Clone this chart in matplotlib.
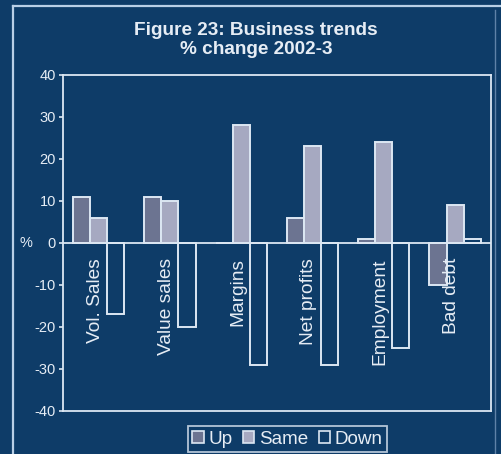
import matplotlib
matplotlib.use("Agg")
import matplotlib.pyplot as plt
from matplotlib.patches import Patch
from matplotlib.lines import Line2D

# Data: % change 2002-3 by business indicator
categories = ["Vol. Sales", "Value sales", "Margins", "Net profits", "Employment", "Bad debt"]
up = [11, 11, 0, 6, 1, -10]
same = [6, 10, 28, 23, 24, 9]
down = [-17, -20, -29, -29, -25, 1]
series_names = ["Up", "Same", "Down"]
yticks = [-40, -30, -20, -10, 0, 10, 20, 30, 40]

BG = "#0e3c68"
LINE = "#dce7f3"
TXT = "#e6edf5"
UP_C = "#6c7491"
SAME_C = "#a6a9c1"

plt.rcParams['font.family'] = ['Liberation Sans', 'DejaVu Sans']

W, H = 501, 454
fig = plt.figure(figsize=(W / 100, H / 100), dpi=100, facecolor=BG)

# outer frame lines
frame_kw = dict(transform=fig.transFigure, color="#b9cfe6", lw=1.6)
fig.add_artist(Line2D([13 / W, 13 / W], [0, 1 - 6 / H], **frame_kw))
fig.add_artist(Line2D([13 / W, 1], [1 - 6 / H, 1 - 6 / H], **frame_kw))
fig.add_artist(Line2D([495 / W, 495 / W], [0, 1 - 10 / H], transform=fig.transFigure,
                      color="#5f82a8", lw=1.0))

ax = fig.add_axes([63 / W, 1 - 411 / H, (490.7 - 63) / W, (411 - 74.7) / H])
ax.set_facecolor(BG)

width = 0.24
x = list(range(len(categories)))
edge_kw = dict(edgecolor=LINE, linewidth=1.4, width=width, zorder=3)
ax.bar([i - width for i in x], up, color=UP_C, **edge_kw)
ax.bar(x, same, color=SAME_C, **edge_kw)
ax.bar([i + width for i in x], down, color="none", **edge_kw)

ax.axhline(0, color=LINE, lw=1.3, zorder=4)

ax.set_xlim(-0.5, len(categories) - 0.5)
ax.set_ylim(-40, 40)
ax.set_yticks(yticks)
ax.set_yticklabels([str(v) for v in yticks], color=TXT, fontsize=10.5)
ax.tick_params(axis='y', direction='out', length=3, width=1.2, color=LINE, pad=2)
ax.set_xticks([])
for s in ax.spines.values():
    s.set_color(LINE)
    s.set_linewidth(1.3)

# category labels hanging below the zero line, reading upwards
for i, name in enumerate(categories):
    ax.annotate(name, xy=(i - 0.05, 0), xytext=(0, -11), textcoords='offset points',
                rotation=90, ha='center', va='top', color=TXT, fontsize=13.8)

# "%" axis label
fig.text(26 / W, 1 - 243 / H, "%", color=TXT, fontsize=10.5, ha='center', va='center')

# title
fig.text(256 / W, 1 - 35 / H, "Figure 23: Business trends", color=TXT, fontsize=13.7,
         fontweight='bold', ha='center', va='baseline')
fig.text(256 / W, 1 - 54 / H, "% change 2002-3", color=TXT, fontsize=13.7,
         fontweight='bold', ha='center', va='baseline')

handles = [Patch(facecolor=UP_C, edgecolor=LINE, lw=1.2),
           Patch(facecolor=SAME_C, edgecolor=LINE, lw=1.2),
           Patch(facecolor="none", edgecolor=LINE, lw=1.2)]
leg = fig.legend(handles, series_names, loc='center', ncol=3,
                 bbox_to_anchor=(287.5 / W, 1 - 439 / H), bbox_transform=fig.transFigure,
                 frameon=True, fancybox=False, facecolor=BG, edgecolor=LINE,
                 fontsize=13.6, handlelength=0.6, handleheight=0.6, handletextpad=0.25,
                 columnspacing=0.55, borderpad=0.25, borderaxespad=0)
leg.get_frame().set_linewidth(1.3)
for t in leg.get_texts():
    t.set_color(TXT)

fig.savefig("out.png", dpi=100, facecolor=BG)
